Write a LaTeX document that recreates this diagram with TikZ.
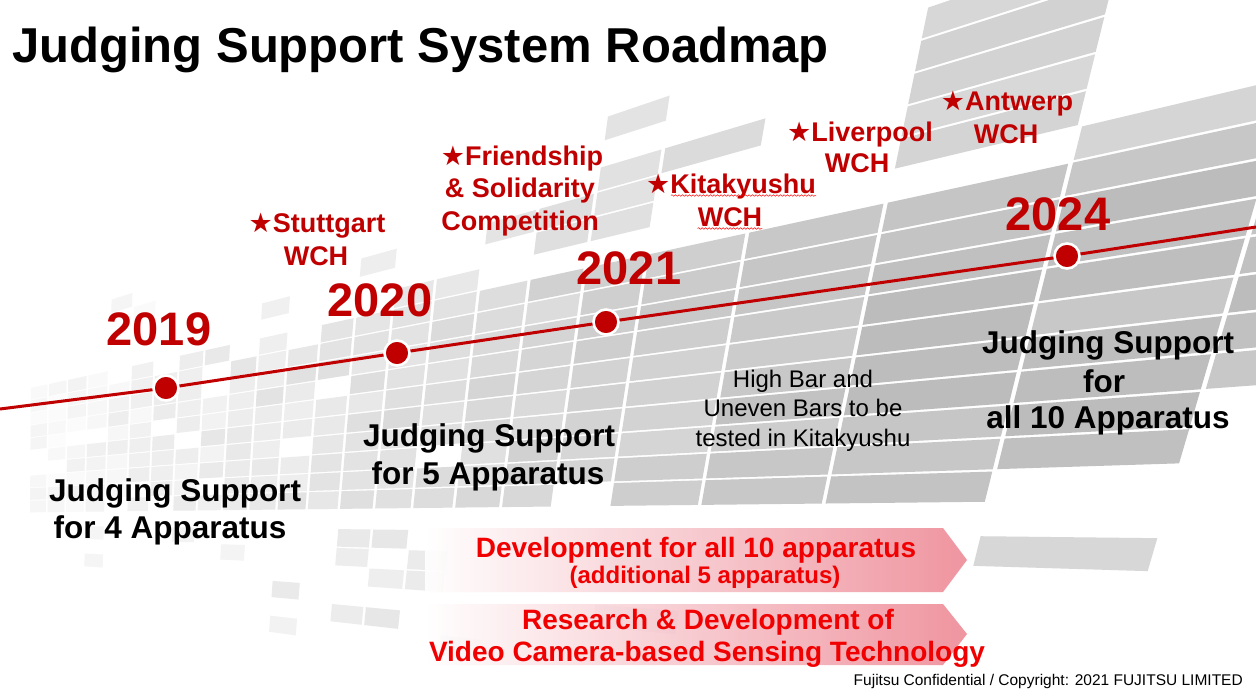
\documentclass[tikz,border=0pt]{standalone}
\usepackage{fontspec}
\setmainfont{Liberation Sans}
\newfontfamily\symfont{DejaVu Sans}
\usetikzlibrary{decorations.pathmorphing}
\definecolor{darkred}{RGB}{192,0,0}
\definecolor{brightred}{RGB}{240,0,0}
\definecolor{arrowpink}{RGB}{238,138,150}
\newcommand\gpt[3]{%
  \pgfmathsetmacro\gk{-0.00025*#1}%
  \pgfmathsetmacro\gm{#2/1355}%
  \pgfmathsetmacro\gx{(#1+\gk*(119+575*\gm))/(1-\gk*\gm)}%
  \pgfmathsetmacro\gy{519+\gm*(\gx+575)}%
  \coordinate (#3) at (\gx,\gy);}
\newcommand\st{{\symfont ★}}
\tikzset{
  yr/.style={text=darkred, font=\fontsize{47}{50}\selectfont\bfseries, anchor=base, inner sep=0pt},
  ev/.style={text=darkred, font=\fontsize{27}{30}\selectfont\bfseries, anchor=base, inner sep=0pt},
  bk/.style={font=\fontsize{31.5}{34}\selectfont\bfseries, anchor=base, inner sep=0pt},
  nt/.style={font=\fontsize{24}{26}\selectfont, anchor=base, inner sep=0pt},
  ar/.style={text=brightred, font=\fontsize{28}{30}\selectfont\bfseries, anchor=base, inner sep=0pt},
  arsm/.style={ar, font=\fontsize{24}{26}\selectfont\bfseries},
  ttl/.style={font=\fontsize{49}{52}\selectfont\bfseries, anchor=base west, inner sep=0pt},
  ft/.style={font=\fontsize{15.5}{17}\selectfont, anchor=base east, inner sep=0pt},
  redline/.style={draw=darkred, line width=3pt},
  dot/.style={circle, fill=darkred, draw=white, line width=2.6pt, minimum size=25pt, inner sep=0pt},
  band/.style={left color=white, right color=arrowpink, fill opacity=0.9},
  squig/.style={draw=red, line width=0.5pt, decorate, decoration={snake, amplitude=0.8pt, segment length=3.5pt}}
}
\begin{document}
\begin{tikzpicture}[x=1pt,y=-1pt]
\fill[white] (0,0) rectangle (1256,697);
\useasboundingbox (0,0) rectangle (1256,697);
% ---------- background perspective grid ----------
\begin{scope}
\clip (0,0) rectangle (1256,697);
\pgfmathsetseed{11}
\foreach \bl/\br in {30/48,48/67,67/87,87/108,108/130,130/153,153/177,177/202,202/228,228/255,255/284,284/315,315/348,348/384,384/423,423/466,466/514,514/567,567/625,625/718,718/845,845/1012,1012/1200,1200/1400}{
  \foreach \sa/\sb in {-462/-434,-434/-406,-406/-378,-378/-350,-350/-322,-322/-294,-294/-266,-266/-238,-238/-210,-210/-182,-182/-154,-154/-126,-126/-98,-98/-70,-70/-42,-42/-14,14/42,42/70,70/98,98/126,126/154,154/182}{
    \pgfmathsetmacro\xc{(\bl+\br)/2}
    \pgfmathsetmacro\sm{(\sa+\sb)/2}
    \pgfmathsetmacro\pp{(\bl==1200) ? ((\sm>-322 && \sm<-100) ? 1 : 0) :
      ((\bl==1012) ? ((\sm>-322 && \sm<-42) || (\sm>0 && \sm<42) ? 1 : 0) :
      ((\sm>0) ? ((\xc>330) ? 0.12 : 0.03) :
      ((\sm>-294) ? ((\xc>300) ? 0.97 : 0.8) :
      ((\sm>-322) ? ((\xc>820) ? 0 : ((\xc>380) ? 0.4 : 0.1)) :
      ((\xc>820) ? 0.8 : ((\xc>400 && \xc<680 && \sm>-420) ? 0.3 : 0.03))))))}
    \pgfmathsetmacro\rr{rnd}
    \ifdim\rr pt<\pp pt
      \pgfmathsetmacro\gg{max(1,min(30,(3+21*min(max((\xc-60)/800,0),1)+5*(rnd-0.5))*((\sm>0 || \sm<-294) ? 0.7 : 1)))}
      \pgfmathsetmacro\ci{0.8+0.0015*\bl}
      \pgfmathsetmacro\lx{\bl+\ci}
      \pgfmathsetmacro\rx{\br-\ci}
      \pgfmathsetmacro\ta{\sa+1}
      \pgfmathsetmacro\tb{\sb-1}
      \gpt{\lx}{\ta}{p1}\gpt{\rx}{\ta}{p2}\gpt{\rx}{\tb}{p3}\gpt{\lx}{\tb}{p4}
      \fill[black!\gg] (p1) -- (p2) -- (p3) -- (p4) -- cycle;
    \fi
  }
}
\end{scope}
% ---------- title ----------
\node[ttl] (title) at (12,62) {Judging Support System Roadmap};
% ---------- timeline ----------
\coordinate (lineL) at (0,409);
\coordinate (c19) at (166,388);
\coordinate (c20) at (397,353);
\coordinate (c21) at (606,322);
\coordinate (c24) at (1067,256);
\coordinate (lineR) at (1256,227);
\draw[redline] (lineL) -- (c19) -- (c20) -- (c21) -- (c24) -- (lineR);
\node[dot] (d19) at (c19) {};
\node[dot] (d20) at (c20) {};
\node[dot] (d21) at (c21) {};
\node[dot] (d24) at (c24) {};
% ---------- years ----------
\node[yr] (y19) at (159,345) {2019};
\node[yr] (y20) at (380,316) {2020};
\node[yr] (y21) at (629,284) {2021};
\node[yr] (y24) at (1058,230) {2024};
% ---------- events ----------
\node[ev] (stu1) at (317,232) {\st Stuttgart};
\node[ev] (stu2) at (316,265) {WCH};
\node[ev] (fr1) at (522,165) {\st Friendship};
\node[ev] (fr2) at (520,197.5) {\& Solidarity};
\node[ev] (fr3) at (520,230) {Competition};
\node[ev] (kit1) at (731,193) {\st Kitakyushu};
\node[ev] (kit2) at (730,226) {WCH};
\draw[squig] ([xshift=25pt,yshift=-2.5pt]kit1.base west) -- ([yshift=-2.5pt]kit1.base east);
\draw[squig] ([yshift=-2.5pt]kit2.base west) -- ([yshift=-2.5pt]kit2.base east);
\node[ev] (liv1) at (860,141) {\st Liverpool};
\node[ev] (liv2) at (857,172) {WCH};
\node[ev] (ant1) at (1007,110) {\st Antwerp};
\node[ev] (ant2) at (1006,143) {WCH};
% ---------- judging support texts ----------
\node[bk] (js4a) at (175,501) {Judging Support};
\node[bk] (js4b) at (170,538) {for 4 Apparatus};
\node[bk] (js5a) at (489,446) {Judging Support};
\node[bk] (js5b) at (488,484) {for 5 Apparatus};
\node[bk] (js10a) at (1108,353) {Judging Support};
\node[bk] (js10b) at (1104,392) {for};
\node[bk] (js10c) at (1108,428) {all 10 Apparatus};
% ---------- note ----------
\node[nt] (hb1) at (803,387) {High Bar and};
\node[nt] (hb2) at (803,416) {Uneven Bars to be};
\node[nt] (hb3) at (803,446) {tested in Kitakyushu};
% ---------- arrows ----------
\shade[band] (425,528) -- (943,528) -- (967,560) -- (943,592) -- (425,592) -- cycle;
\shade[band] (425,604) -- (943,604) -- (967,634) -- (943,665) -- (425,665) -- cycle;
\node[ar] (dev1) at (696,557) {Development for all 10 apparatus};
\node[arsm] (dev2) at (705,583) {(additional 5 apparatus)};
\node[ar] (rd1) at (708,629) {Research \& Development of};
\node[ar] (rd2) at (707,661) {Video Camera-based Sensing Technology};
% ---------- footer ----------
\node[ft] (foot) at (1243,685) {Fujitsu Confidential / Copyright: 2021 FUJITSU LIMITED};
\end{tikzpicture}
\end{document}
